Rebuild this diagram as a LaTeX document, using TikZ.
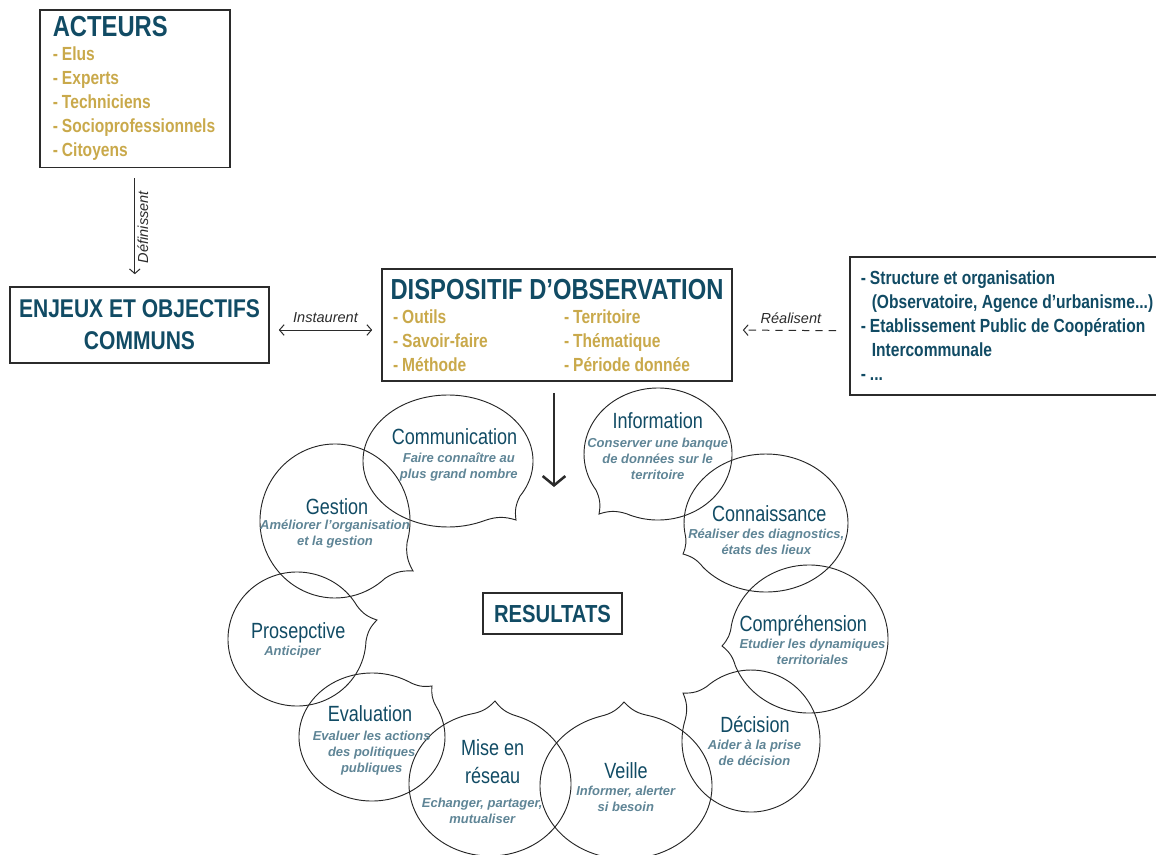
\documentclass[tikz,border=0pt]{standalone}
\usepackage{fontspec}
\setmainfont{Liberation Sans}
\newfontfamily\etroit[FakeStretch=0.82]{Liberation Sans}
\usepackage{xcolor}
\usetikzlibrary{positioning,arrows.meta}
\definecolor{bleu}{HTML}{114B64}
\definecolor{ocre}{HTML}{C9A94B}
\definecolor{grisbleu}{HTML}{5F8596}
\definecolor{gris}{HTML}{2B2B2B}
\newcommand{\tiret}{-\hspace{3pt}}
\newcommand{\bulle}[7]{%
\draw[bulle,shift={(#1,#2)}] (#5+16:#3 and #4) 
arc[start angle=#5+16, end angle=#5+344, x radius=#3, y radius=#4] 
to[bend left=18] (#6,#7) to[bend left=18] (#5+16:#3 and #4);
}

\begin{document}
\begin{tikzpicture}[
x=0.75pt, y=0.75pt,
boite/.style={draw=gris, line width=1.2pt},
titre/.style={font=\etroit\fontsize{16.5}{21.3}\selectfont, text=bleu, align=center, inner sep=0pt, text depth=0pt},
sous/.style={font=\bfseries\itshape\fontsize{9.75}{12}\selectfont, text=grisbleu, align=center, inner sep=0pt},
etiquette/.style={font=\itshape\fontsize{10.9}{13}\selectfont, text=gris},
fleche/.style={-{Straight Barb[length=3.5pt,width=8pt]}, line width=0.75pt, draw=gris},
bulle/.style={draw=black!85, line width=0.7pt}]
\useasboundingbox (0,0) rectangle (1156,-854);

\node[boite, anchor=north west, text width=123pt, inner xsep=9.75pt, inner ysep=5pt, align=flush left, 
font=\etroit\bfseries\fontsize{14.25}{18}\selectfont, text=ocre] (acteurs) at (39,-9) 
{{\fontsize{21.75}{18}\selectfont\color{bleu}ACTEURS}\\\tiret Elus\\\tiret Experts\\\tiret Techniciens\\\tiret Socioprofessionnels\\\tiret Citoyens};

\node[boite, minimum width=194.25pt, minimum height=57pt, align=center, 
font=\etroit\bfseries\fontsize{19.25}{24}\selectfont, text=bleu] (enjeux) at (139.5,-325) 
{ENJEUX ET OBJECTIFS\\COMMUNS};

\node[boite, minimum width=262.5pt, minimum height=84pt, align=center, 
font=\etroit\bfseries\fontsize{14.25}{18}\selectfont, text=ocre] (dispositif) at (557,-325) 
{{\fontsize{21.75}{18}\selectfont\color{bleu}DISPOSITIF D’OBSERVATION}\\
\makebox[128.25pt][l]{\tiret Outils}\makebox[117.75pt][l]{\tiret Territoire}\\
\makebox[128.25pt][l]{\tiret Savoir-faire}\makebox[117.75pt][l]{\tiret Thématique}\\
\makebox[128.25pt][l]{\tiret Méthode}\makebox[117.75pt][l]{\tiret Période donnée}};

\node[boite, anchor=north west, text width=236pt, minimum height=103.5pt, inner xsep=8.25pt, align=flush left, 
font=\etroit\bfseries\fontsize{14.25}{18}\selectfont, text=bleu] (structures) at (849,-256) 
{\tiret Structure et organisation\\\hspace*{8.25pt}(Observatoire, Agence d’urbanisme...)\\
\tiret Etablissement Public de Coopération\\\hspace*{8.25pt}Intercommunale\\\tiret ...};

\node[boite, minimum width=104.25pt, minimum height=30.75pt, 
font=\etroit\bfseries\fontsize{18.5}{22}\selectfont, text=bleu] (resultats) at (552.5,-613.5) {RESULTATS};

\draw[fleche, shorten <=7.5pt, shorten >=9pt] (acteurs.south) -- (acteurs.south |- enjeux.north) 
node[etiquette, midway, rotate=90, anchor=north, inner sep=1.5pt] {Définissent};
\draw[fleche, {Straight Barb[length=3.5pt,width=8pt]}-{Straight Barb[length=3.5pt,width=8pt]}, shorten <=6.75pt, shorten >=6.75pt] 
([yshift=-3.75pt]enjeux.east) -- ([yshift=-3.75pt]dispositif.west) node[etiquette, midway, above=1.5pt] {Instaurent};
\draw[fleche, dash pattern=on 5.5pt off 4.5pt, shorten <=9.75pt, shorten >=7.5pt] 
([yshift=-3.75pt]structures.west) -- ([yshift=-3.75pt]dispositif.east) node[etiquette, midway, above=1.5pt] {Réalisent};
\coordinate (pointe) at (554,-487);
\draw[draw=gris, line width=1.9pt, -{Straight Barb[length=7pt,width=17pt]}, shorten <=8.25pt] (dispositif.south -| pointe) -- (pointe);

\bulle{448}{-461}{85}{66}{-48}{68}{-59}
\bulle{658}{-454}{74}{66}{229}{-59}{-60}
\bulle{766}{-523}{82}{69}{204}{-83}{-31}
\bulle{809}{-639}{79}{74}{185}{-87}{-7}
\bulle{751}{-741}{69}{71}{146}{-68}{48}
\bulle{626}{-786}{86}{73}{91}{-2}{84}
\bulle{490}{-784}{81}{72}{87}{5}{83}
\bulle{372}{-737}{73}{64}{44}{60}{51}
\bulle{297}{-639}{69}{67}{14}{80}{19}
\bulle{335}{-521}{75}{77}{-32}{78}{-50}

\node[titre] (communication) at (454.5,-436.7) {Communication};
\node[sous] (communication-txt) at (458.8,-467) {Faire connaître au\\plus grand nombre};
\node[titre] (information) at (657.7,-420.7) {Information};
\node[sous] (information-txt) at (657.7,-458.5) {Conserver une banque\\de données sur le\\territoire};
\node[titre] (connaissance) at (769.3,-513.3) {Connaissance};
\node[sous] (connaissance-txt) at (766.3,-541.7) {Réaliser des diagnostics,\\états des lieux};
\node[titre] (comprehension) at (803.3,-623.3) {Compréhension};
\node[sous] (comprehension-txt) at (812.5,-652.3) {Etudier les dynamiques\\territoriales};
\node[titre] (decision) at (755,-724) {Décision};
\node[sous] (decision-txt) at (754.5,-753.2) {Aider à la prise\\de décision};
\node[titre] (veille) at (626,-770.7) {Veille};
\node[sous] (veille-txt) at (625.8,-798.7) {Informer, alerter\\si besoin};
\node[titre] (reseau) at (492.7,-761.5) {Mise en\\réseau};
\node[sous] (reseau-txt) at (482.2,-810.5) {Echanger, partager,\\mutualiser};
\node[titre] (evaluation) at (370,-713.3) {Evaluation};
\node[sous] (evaluation-txt) at (371.7,-753.4) {Evaluer les actions\\des politiques\\publiques};
\node[titre] (prospective) at (298.3,-630.7) {Prosepctive};
\node[sous] (prospective-txt) at (292.5,-652.3) {Anticiper};
\node[titre] (gestion) at (337,-506.7) {Gestion};
\node[sous] (gestion-txt) at (335,-534.3) {Améliorer l’organisation\\et la gestion};
\end{tikzpicture}
\end{document}
